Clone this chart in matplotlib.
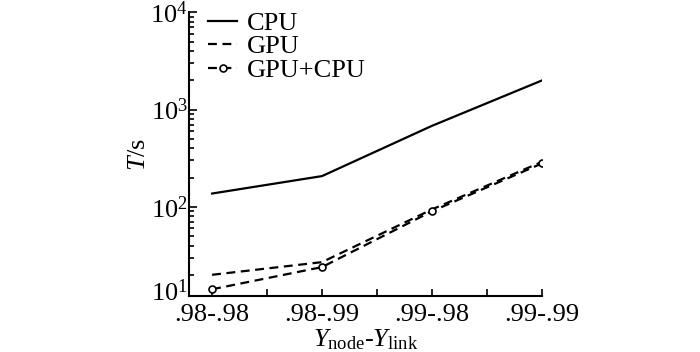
import matplotlib
matplotlib.use("Agg")
import matplotlib.pyplot as plt
import matplotlib.transforms as mtransforms
from matplotlib.ticker import FixedLocator, FixedFormatter, LogLocator, NullFormatter

plt.rcParams["font.family"] = ["Liberation Serif", "DejaVu Serif"]
plt.rcParams["mathtext.fontset"] = "custom"
plt.rcParams["mathtext.rm"] = "Liberation Serif"
plt.rcParams["mathtext.it"] = "Liberation Serif:italic"

# Daten
kategorien = [".98-.98", ".98-.99", ".99-.98", ".99-.99"]
cpu = [137, 207, 680, 1990]
gpu = [20, 27, 94, 290]
gpu_cpu = [14.2, 24, 90, 279]
y_unten = 12.1

x = [1, 2, 3, 4]

fig = plt.figure(figsize=(7.0, 3.52), dpi=100)
ax = fig.add_axes([0.27, 0.159, 0.504, 0.806])

ax.plot(x, cpu, color="black", lw=1.6, label="CPU")
ax.plot(x, gpu, color="black", lw=1.6, ls=(0, (4, 2.5)), label="GPU")
ax.plot(x, gpu_cpu, color="black", lw=1.6, ls=(0, (4, 2.5)), marker="o",
        ms=5, mfc="white", mec="black", mew=1.2, label="GPU+CPU")

ax.set_yscale("log")
ax.set_ylim(y_unten, 1e4)
ax.set_xlim(0.79, 4.0)

ax.yaxis.set_major_locator(FixedLocator([y_unten, 1e2, 1e3, 1e4]))
ax.yaxis.set_major_formatter(FixedFormatter([r"$10^{1}$", r"$10^{2}$", r"$10^{3}$", r"$10^{4}$"]))
ax.yaxis.set_minor_locator(LogLocator(base=10, subs=range(2, 10)))
ax.yaxis.set_minor_formatter(NullFormatter())

ax.set_xticks(x)
ax.set_xticklabels(kategorien)
ax.set_xticks([1.5, 2.5, 3.5], minor=True)

ax.tick_params(which="both", direction="in", labelsize=19, width=1.2)
ax.tick_params(axis="y", which="major", length=6, pad=1)
ax.tick_params(axis="y", which="minor", length=3.5)
ax.tick_params(axis="x", which="both", length=5, pad=6)

# unterste Beschriftung etwas anheben, damit sie die x-Beschriftung nicht berührt
fig.canvas.draw()
lab0 = ax.get_yticklabels()[0]
lab0.set_transform(lab0.get_transform() +
                   mtransforms.ScaledTranslation(0, 4 / 72, fig.dpi_scale_trans))

for s in ["top", "right"]:
    ax.spines[s].set_visible(False)
for s in ["left", "bottom"]:
    ax.spines[s].set_linewidth(1.5)

ax.set_ylabel(r"$T$/s", fontsize=19, labelpad=0)
ax.set_xlabel(r"$Y_{\mathrm{node}}$-$Y_{\mathrm{link}}$", fontsize=19, labelpad=1)

ax.legend(loc="upper left", frameon=False, fontsize=19, handlelength=1.1,
          handletextpad=0.35, labelspacing=0.0, borderaxespad=0.0,
          bbox_to_anchor=(0.025, 1.04))

fig.savefig("out.png", dpi=100)
